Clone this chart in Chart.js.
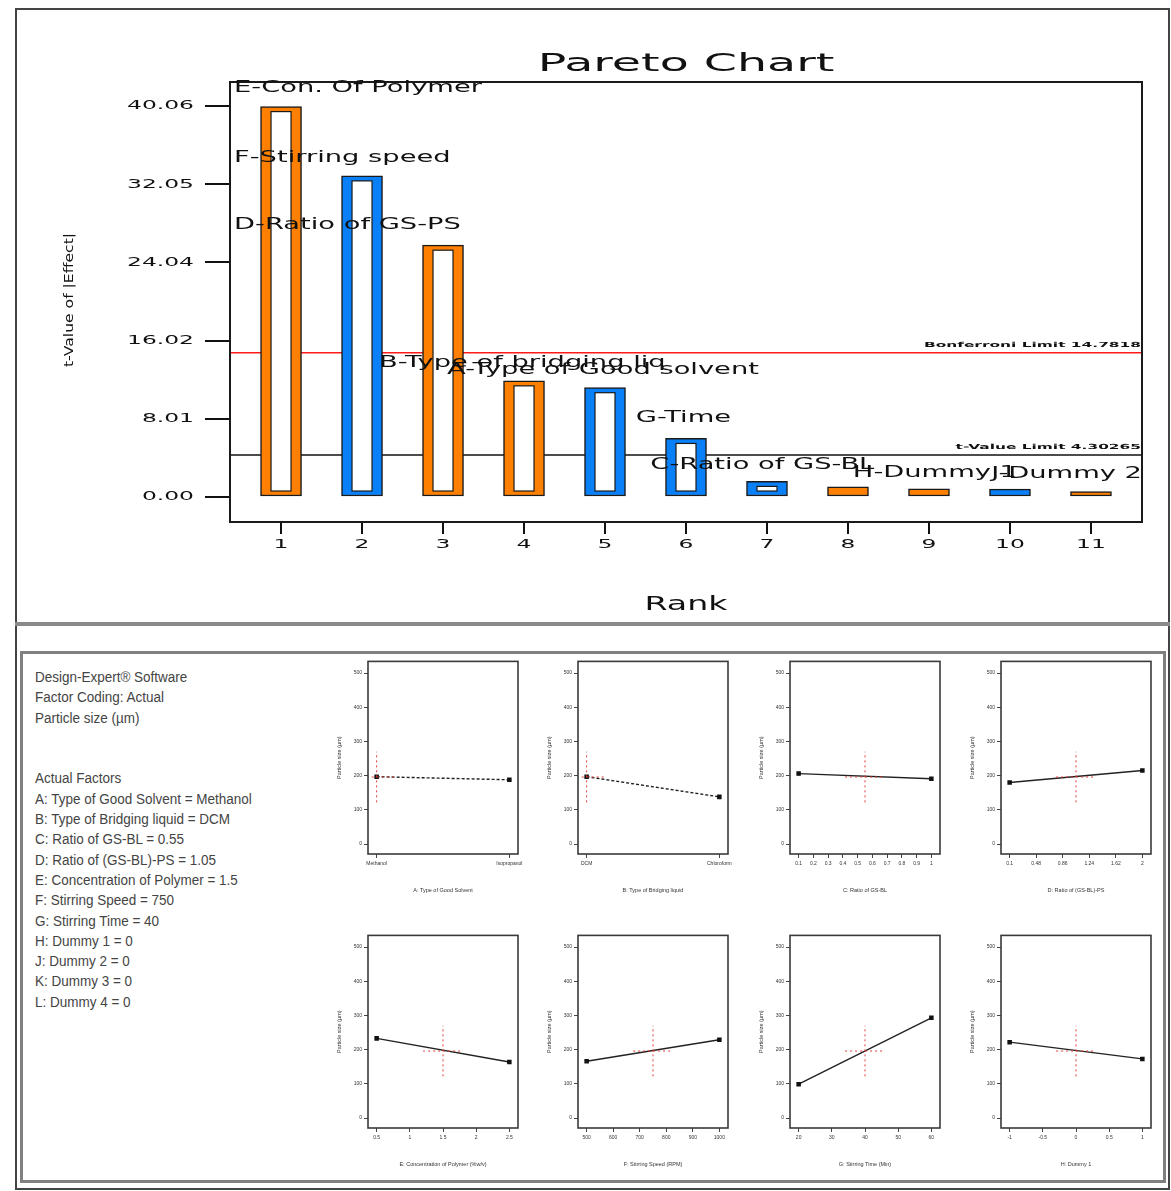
<!DOCTYPE html>
<html>
<head>
<meta charset="utf-8">
<script src="https://cdn.jsdelivr.net/npm/chart.js@4.4.1/dist/chart.umd.min.js"></script>
<style>
  body { margin: 0; background: #fff; width: 1171px; height: 1191px; position: relative; overflow: hidden; }
  .abs { position: absolute; }
  #frame { left: 15px; top: 8px; width: 1151px; height: 1178px; border: 2px solid #444; }
  #topRule { left: 15px; top: 622px; width: 1155px; height: 4px; background: #8a8a8a; }
  #bottomPanel { left: 20px; top: 651px; width: 1140px; height: 526px; border: 3px solid #808080; }
  #factors { left: 35px; top: 667px; font-family: "Liberation Sans", sans-serif;
             font-size: 15.5px; line-height: 20.3px; color: #444; white-space: pre;
             transform: scaleX(0.87); transform-origin: left top; }
  #pareto { left: 0; top: 0; }
</style>
</head>
<body>
<div id="frame" class="abs"></div>
<div id="topRule" class="abs"></div>
<div id="bottomPanel" class="abs"></div>
<canvas id="pareto" class="abs" width="1171" height="630"></canvas>
<div id="factors" class="abs">Design-Expert® Software
Factor Coding: Actual
Particle size (µm)


Actual Factors
A: Type of Good Solvent = Methanol
B: Type of Bridging liquid = DCM
C: Ratio of GS-BL = 0.55
D: Ratio of (GS-BL)-PS = 1.05
E: Concentration of Polymer = 1.5
F: Stirring Speed = 750
G: Stirring Time = 40
H: Dummy 1 = 0
J: Dummy 2 = 0
K: Dummy 3 = 0
L: Dummy 4 = 0</div>
<script>
// ---- Pareto chart data ----
const ranks = [1, 2, 3, 4, 5, 6, 7, 8, 9, 10, 11];
const tValues = [40.0, 32.9, 25.8, 11.9, 11.2, 6.0, 1.6, 1.05, 0.83, 0.8, 0.55];
const effectPositive = [true, false, true, true, false, false, false, true, true, false, true];
const tTicks = [0.00, 8.01, 16.02, 24.04, 32.05, 40.06];
const bonferroniLimit = 14.7818;
const tValueLimit = 4.30265;
const termNames = ["E-Con. Of Polymer", "F-Stirring speed", "D-Ratio of GS-PS", "B-Type of bridging liq",
                   "A-Type of Good solvent", "G-Time", "C-Ratio of GS-BL", "H-Dummy 1", "J-Dummy 2"];

// ---- one-factor effect plots data ----
const factorTitles = ["A: Type of Good Solvent", "B: Type of Bridging liquid", "C: Ratio of GS-BL",
                      "D: Ratio of (GS-BL)-PS", "E: Concentration of Polymer (%w/v)", "F: Stirring Speed (RPM)",
                      "G: Stirring Time (Min)", "H: Dummy 1"];
const factorLow = [0, 0, 0.1, 0.1, 0.5, 500, 20, -1];
const factorHigh = [1, 1, 1, 2, 2.5, 1000, 60, 1];
const factorCurrent = [0, 0, 0.55, 1.05, 1.5, 750, 40, 0];
const factorTicks = [
  [0, 1],
  [0, 1],
  [0.1, 0.2, 0.3, 0.4, 0.5, 0.6, 0.7, 0.8, 0.9, 1],
  [0.1, 0.48, 0.86, 1.24, 1.62, 2],
  [0.5, 1, 1.5, 2, 2.5],
  [500, 600, 700, 800, 900, 1000],
  [20, 30, 40, 50, 60],
  [-1, -0.5, 0, 0.5, 1]
];
const solventNames = ["Methanol", "Isopropanol"];
const bridgingNames = ["DCM", "Chloroform"];
const sizeAtLow = [197, 197, 206, 180, 233, 166, 99, 222];
const sizeAtHigh = [188, 138, 191, 215, 164, 229, 293, 173];
const sizeAtCurrent = 196;
const sizeHalfInterval = 74;
const sizeTicks = [0, 100, 200, 300, 400, 500];

const orange = '#FF8000';
const blue = '#0A80F8';
const xMin = 0.37, xMax = 11.63;
const yMin = -2.56, yMax = 42.52;

// label anchors for the term names (x in rank units, y in t-value units)
const termLabelAt = [[0.42, 41.9], [0.42, 34.7], [0.42, 27.86], [2.21, 13.7], [3.05, 13.0],
                     [5.38, 8.09], [5.56, 3.28], [8.06, 2.46], [9.77, 2.36]];

function wideText(ctx, text, x, y, font, sx, align) {
  ctx.save();
  ctx.font = font;
  ctx.textBaseline = 'middle';
  ctx.textAlign = align;
  ctx.translate(x, y);
  ctx.scale(sx, 1);
  ctx.fillText(text, 0, 0);
  ctx.restore();
}

const paretoDecor = {
  id: 'paretoDecor',
  afterDatasetsDraw(chart) {
    const ctx = chart.ctx;
    chart.getDatasetMeta(0).data.forEach(bar => {
      const { x, y, base, width } = bar.getProps(['x', 'y', 'base', 'width'], true);
      const l = x - width / 2 + 10.5, r = x + width / 2 - 10.5, t = y + 5, b = base - 5;
      if (b - t > 2) {
        ctx.save();
        ctx.fillStyle = '#fff';
        ctx.fillRect(l, t, r - l, b - t);
        ctx.strokeStyle = '#1a1a1a';
        ctx.lineWidth = 1.2;
        ctx.strokeRect(l, t, r - l, b - t);
        ctx.restore();
      }
    });
  },
  afterDraw(chart) {
    const { ctx, chartArea: a, scales: { x, y } } = chart;
    ctx.save();
    ctx.strokeStyle = '#1a1a1a';
    ctx.lineWidth = 2;
    ctx.strokeRect(a.left, a.top, a.right - a.left, a.bottom - a.top);
    ctx.fillStyle = '#111';
    tTicks.forEach(v => wideText(ctx, v.toFixed(2), a.left - 36, y.getPixelForValue(v), '13px "DejaVu Sans"', 1.8, 'right'));
    ranks.forEach(r => wideText(ctx, String(r), x.getPixelForValue(r), a.bottom + 23, '13px "DejaVu Sans"', 1.8, 'center'));
    termNames.forEach((n, k) => wideText(ctx, n, x.getPixelForValue(termLabelAt[k][0]),
      y.getPixelForValue(termLabelAt[k][1]), '15px "DejaVu Sans"', 1.82, 'left'));
    wideText(ctx, 'Bonferroni Limit ' + bonferroniLimit, a.right - 1, y.getPixelForValue(bonferroniLimit) - 8,
      'bold 7px "DejaVu Sans"', 2.2, 'right');
    wideText(ctx, 't-Value Limit ' + tValueLimit, a.right - 1, y.getPixelForValue(tValueLimit) - 8,
      'bold 7px "DejaVu Sans"', 2.2, 'right');
    wideText(ctx, 'Pareto Chart', (a.left + a.right) / 2, 64, '25px "DejaVu Sans"', 1.9, 'center');
    wideText(ctx, 'Rank', (a.left + a.right) / 2, 605, '19px "DejaVu Sans"', 1.75, 'center');
    ctx.translate(70, 300);
    ctx.rotate(-Math.PI / 2);
    wideText(ctx, 't-Value of |Effect|', 0, 0, '13px "DejaVu Sans"', 1.2, 'center');
    ctx.restore();
  }
};

new Chart(document.getElementById('pareto'), {
  type: 'bar',
  data: {
    datasets: [
      {
        type: 'bar',
        data: ranks.map((r, i) => ({ x: r, y: tValues[i] })),
        backgroundColor: effectPositive.map(p => (p ? orange : blue)),
        borderColor: '#1a1a1a',
        borderWidth: 1.5,
        borderSkipped: false,
        barThickness: 41,
        order: 1
      },
      {
        type: 'line',
        data: [{ x: xMin, y: bonferroniLimit }, { x: xMax, y: bonferroniLimit }],
        borderColor: '#ff1a1a',
        borderWidth: 1.5,
        pointRadius: 0,
        order: 2
      },
      {
        type: 'line',
        data: [{ x: xMin, y: tValueLimit }, { x: xMax, y: tValueLimit }],
        borderColor: '#111',
        borderWidth: 1.5,
        pointRadius: 0,
        order: 2
      }
    ]
  },
  options: {
    responsive: false,
    animation: false,
    layout: { padding: { left: 130, right: 29, top: 82, bottom: 68 } },
    plugins: { legend: { display: false }, tooltip: { enabled: false } },
    scales: {
      x: {
        type: 'linear', min: xMin, max: xMax, offset: false,
        afterBuildTicks: s => { s.ticks = ranks.map(v => ({ value: v })); },
        afterFit: s => { s.height = 40; },
        ticks: { display: false },
        grid: { offset: false, drawOnChartArea: false, tickLength: 12, color: '#111', lineWidth: 2 },
        border: { display: false }
      },
      y: {
        min: yMin, max: yMax,
        afterBuildTicks: s => { s.ticks = tTicks.map(v => ({ value: v })); },
        afterFit: s => { s.width = 100; },
        ticks: { display: false },
        grid: { drawOnChartArea: false, tickLength: 25, color: '#111', lineWidth: 2 },
        border: { display: false }
      }
    }
  },
  plugins: [paretoDecor]
});

// ---- effect plots ----
Chart.defaults.font.family = '"Liberation Sans", sans-serif';
const cellLeft = [368, 578, 790, 1001];
const cellTop = [661, 935];

const boxPlugin = {
  id: 'boxPlugin',
  afterDraw(chart) {
    const { ctx, chartArea: a } = chart;
    ctx.save();
    ctx.strokeStyle = '#3a3a3a';
    ctx.lineWidth = 1.6;
    ctx.strokeRect(a.left, a.top, a.right - a.left, a.bottom - a.top);
    ctx.restore();
  }
};

factorTitles.forEach((title, i) => {
  const cv = document.createElement('canvas');
  cv.width = 200;
  cv.height = 245;
  cv.className = 'abs';
  cv.style.left = (cellLeft[i % 4] - 40) + 'px';
  cv.style.top = (cellTop[Math.floor(i / 4)] - 5) + 'px';
  document.body.appendChild(cv);

  const lo = factorLow[i], hi = factorHigh[i], cur = factorCurrent[i];
  const span = hi - lo;
  const dx = span * 0.15;
  const names = i === 0 ? solventNames : (i === 1 ? bridgingNames : null);
  const redDash = { borderColor: '#e23b3b', borderWidth: 1, borderDash: [2, 3], pointRadius: 0, order: 1 };

  new Chart(cv, {
    type: 'line',
    data: {
      datasets: [
        {
          data: [{ x: lo, y: sizeAtLow[i] }, { x: hi, y: sizeAtHigh[i] }],
          borderColor: '#222', borderWidth: 1.4, borderDash: names ? [3, 2] : [],
          pointStyle: 'rect', pointRadius: 2.2, pointBackgroundColor: '#111', pointBorderColor: '#111',
          order: 2
        },
        Object.assign({ data: [{ x: cur, y: sizeAtCurrent - sizeHalfInterval }, { x: cur, y: sizeAtCurrent + sizeHalfInterval }] }, redDash),
        Object.assign({ data: [{ x: cur - dx, y: sizeAtCurrent }, { x: cur + dx, y: sizeAtCurrent }] }, redDash)
      ]
    },
    options: {
      responsive: false,
      animation: false,
      layout: { padding: { left: 8, right: 10, top: 5, bottom: 7 } },
      plugins: { legend: { display: false }, tooltip: { enabled: false } },
      scales: {
        x: {
          type: 'linear', min: lo - 0.065 * span, max: hi + 0.065 * span,
          afterBuildTicks: s => { s.ticks = factorTicks[i].map(v => ({ value: v })); },
          afterFit: s => { s.height = 40; },
          ticks: {
            font: { size: 5 }, color: '#333', padding: 3, maxRotation: 0, autoSkip: false,
            callback: v => (names ? names[v] : String(+v.toFixed(2)))
          },
          grid: { drawOnChartArea: false, tickLength: 4, color: '#444' },
          border: { display: false },
          title: { display: true, text: title, font: { size: 5.5 }, color: '#333', padding: 0 }
        },
        y: {
          min: -29, max: 534,
          afterBuildTicks: s => { s.ticks = sizeTicks.map(v => ({ value: v })); },
          afterFit: s => { s.width = 32; },
          ticks: { font: { size: 5 }, color: '#333', padding: 2, callback: v => String(v) },
          grid: { drawOnChartArea: false, tickLength: 4, color: '#444' },
          border: { display: false },
          title: { display: true, text: 'Particle size (µm)', font: { size: 5.5 }, color: '#333', padding: 0 }
        }
      }
    },
    plugins: [boxPlugin]
  });
});
</script>
</body>
</html>
